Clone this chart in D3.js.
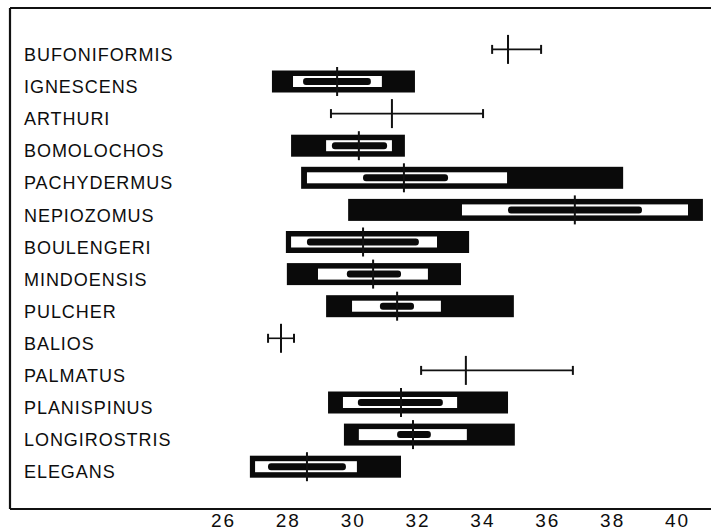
<!DOCTYPE html>
<html>
<head>
<meta charset="utf-8">
<script src="https://cdn.jsdelivr.net/npm/d3@7"></script>
<style>
  html, body { margin: 0; padding: 0; background: #fff; }
  svg { display: block; }
  .label { font-family: "Liberation Sans", Arial, sans-serif; font-size: 18px; letter-spacing: 0.95px; fill: #0d0d0d; }
  .tick text { font-family: "Liberation Sans", Arial, sans-serif; font-size: 19px; letter-spacing: 2px; fill: #0d0d0d; }
</style>
</head>
<body>
<svg id="chart" width="711" height="530"></svg>
<script>
// Species, top to bottom
const species = [
  "BUFONIFORMIS", "IGNESCENS", "ARTHURI", "BOMOLOCHOS", "PACHYDERMUS",
  "NEPIOZOMUS", "BOULENGERI", "MINDOENSIS", "PULCHER", "BALIOS",
  "PALMATUS", "PLANISPINUS", "LONGIROSTRIS", "ELEGANS"
];
// Observed range (outer black bar, or line for small samples)
const rangeLo = [34.33, 27.54, 29.36, 28.13, 28.44, 29.89, 27.97, 28.00, 29.21, 27.42, 32.14, 29.27, 29.76, 26.86];
const rangeHi = [35.84, 31.95, 34.05, 31.64, 38.37, 40.83, 33.62, 33.37, 35.00, 28.22, 36.82, 34.82, 35.03, 31.52];
// Mean (vertical stroke)
const means   = [34.82, 29.55, 31.24, 30.22, 31.61, 36.88, 30.35, 30.66, 31.40, 27.82, 33.52, 31.52, 31.89, 28.62];
// One standard deviation each side (white bar); null where not drawn
const sdLo    = [null, 28.19, null, 29.21, 28.62, 33.40, 28.13, 28.96, 30.01, null, null, 29.73, 30.22, 27.02];
const sdHi    = [null, 30.93, null, 31.24, 34.79, 40.37, 32.63, 32.35, 32.75, null, null, 33.25, 33.55, 30.16];
// Two standard errors each side (inner black bar)
const seLo    = [null, 28.50, null, 29.39, 30.35, 34.82, 28.62, 29.85, 30.87, null, null, 30.19, 31.40, 27.42];
const seHi    = [null, 30.59, null, 31.09, 32.97, 38.95, 32.07, 31.52, 31.92, null, null, 32.81, 32.44, 29.82];
// Axis tick labels
const tickValues = [26, 28, 30, 32, 34, 36, 38, 40];

const rows = species.map((name, i) => ({
  name, lo: rangeLo[i], hi: rangeHi[i], mean: means[i],
  sdLo: sdLo[i], sdHi: sdHi[i], seLo: seLo[i], seHi: seHi[i]
}));

const svg = d3.select("#chart");
const x = d3.scaleLinear().domain([26, 40]).range([222, 676]);
const y = d3.scalePoint().domain(species).range([49.4, 466.7]);

// Frame (open on the right)
const frame = svg.append("g").attr("stroke", "#111").attr("stroke-width", 2.2).attr("fill", "none");
frame.append("line").attr("x1", 10).attr("y1", 8).attr("x2", 711).attr("y2", 8);
frame.append("line").attr("x1", 10).attr("y1", 8).attr("x2", 10).attr("y2", 509);
frame.append("line").attr("x1", 10).attr("y1", 509).attr("x2", 711).attr("y2", 509);

// Species labels
svg.append("g").selectAll("text").data(rows).join("text")
  .attr("class", "label")
  .attr("x", 24)
  .attr("y", d => y(d.name) + 11.6)
  .text(d => d.name);

const boxed = rows.filter(d => d.sdLo !== null);
const crosses = rows.filter(d => d.sdLo === null);

const gBox = svg.append("g");
// Range bars
gBox.selectAll("rect.range").data(boxed).join("rect")
  .attr("class", "range")
  .attr("x", d => x(d.lo)).attr("width", d => x(d.hi) - x(d.lo))
  .attr("y", d => y(d.name) - 11).attr("height", 22)
  .attr("fill", "#0a0a0a");
// Standard deviation bars
gBox.selectAll("rect.sd").data(boxed).join("rect")
  .attr("class", "sd")
  .attr("x", d => x(d.sdLo)).attr("width", d => x(d.sdHi) - x(d.sdLo))
  .attr("y", d => y(d.name) - 5.5).attr("height", 11)
  .attr("fill", "#fff");
// Standard error bars
gBox.selectAll("rect.se").data(boxed).join("rect")
  .attr("class", "se")
  .attr("x", d => x(d.seLo)).attr("width", d => x(d.seHi) - x(d.seLo))
  .attr("y", d => y(d.name) - 3.5).attr("height", 7)
  .attr("rx", 3).attr("ry", 3)
  .attr("fill", "#0a0a0a");

// Range lines with end caps
const gCross = svg.append("g").attr("stroke", "#111").attr("stroke-width", 1.6);
gCross.selectAll("line.rl").data(crosses).join("line")
  .attr("class", "rl")
  .attr("x1", d => x(d.lo)).attr("x2", d => x(d.hi))
  .attr("y1", d => y(d.name)).attr("y2", d => y(d.name));
gCross.selectAll("line.capL").data(crosses).join("line")
  .attr("class", "capL")
  .attr("x1", d => x(d.lo)).attr("x2", d => x(d.lo))
  .attr("y1", d => y(d.name) - 4.5).attr("y2", d => y(d.name) + 4.5)
  .attr("stroke-width", 2);
gCross.selectAll("line.capR").data(crosses).join("line")
  .attr("class", "capR")
  .attr("x1", d => x(d.hi)).attr("x2", d => x(d.hi))
  .attr("y1", d => y(d.name) - 4.5).attr("y2", d => y(d.name) + 4.5)
  .attr("stroke-width", 2);

// Means
svg.append("g").selectAll("line").data(rows).join("line")
  .attr("x1", d => x(d.mean)).attr("x2", d => x(d.mean))
  .attr("y1", d => y(d.name) - 14.5).attr("y2", d => y(d.name) + 14.5)
  .attr("stroke", "#111").attr("stroke-width", 2);

// Bottom axis labels
const axis = svg.append("g")
  .attr("transform", "translate(0,509)")
  .call(d3.axisBottom(x).tickValues(tickValues).tickSize(0).tickPadding(5).tickFormat(d3.format("d")));
axis.select(".domain").remove();
axis.selectAll(".tick text").attr("font-family", null).attr("font-size", null).attr("dx", "1px");
</script>
</body>
</html>
